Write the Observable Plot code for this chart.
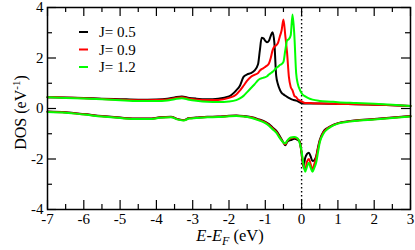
<!DOCTYPE html>
<html><head><meta charset="utf-8">
<script src="https://cdn.jsdelivr.net/npm/d3@7"></script>
<script src="https://cdn.jsdelivr.net/npm/@observablehq/plot@0.6"></script>
<style>body{margin:0;background:#fff;} svg{display:block}</style>
</head><body><div id="chart"></div>
<script>
const seriesNames = ["J= 0.5", "J= 0.9", "J= 1.2"];
const seriesColors = ["#000000", "#ff0000", "#00ff00"];

// spin-up energies (eV) and DOS
const upE = [-7, -6.5, -6, -5.5, -5, -4.5, -4, -3.7, -3.5, -3.3, -3.1, -2.9, -2.6, -2.3, -2.0, -1.8, -1.7, -1.6, -1.5, -1.4, -1.3, -1.2, -1.15, -1.1, -1.05, -1.0, -0.95, -0.9, -0.85, -0.8, -0.75, -0.7, -0.65, -0.6, -0.55, -0.5, -0.45, -0.4, -0.35, -0.3, -0.25, -0.2, -0.15, -0.1, -0.05, 0, 0.1, 0.2, 0.3, 0.5, 0.8, 1.0, 1.5, 2.0, 2.5, 3.0];
const upJ05 = [0.45, 0.44, 0.42, 0.39, 0.37, 0.35, 0.36, 0.39, 0.44, 0.48, 0.42, 0.39, 0.37, 0.39, 0.48, 0.72, 0.9, 1.25, 1.35, 1.4, 1.5, 1.75, 2.3, 2.8, 2.78, 2.68, 2.62, 2.68, 2.88, 3.02, 2.6, 1.3, 0.95, 0.75, 0.62, 0.56, 0.51, 0.46, 0.42, 0.38, 0.35, 0.33, 0.31, 0.28, 0.24, 0.21, 0.2, 0.2, 0.2, 0.2, 0.19, 0.18, 0.17, 0.15, 0.13, 0.1];
const upJ09 = [0.45, 0.43, 0.41, 0.38, 0.35, 0.33, 0.34, 0.36, 0.41, 0.45, 0.39, 0.36, 0.34, 0.34, 0.42, 0.55, 0.71, 0.9, 1.1, 1.25, 1.33, 1.4, 1.5, 1.56, 1.6, 1.65, 1.7, 1.78, 2.0, 2.3, 2.45, 2.5, 2.6, 2.85, 3.1, 3.52, 2.9, 2.2, 1.25, 0.85, 0.72, 0.5, 0.45, 0.36, 0.32, 0.28, 0.22, 0.22, 0.21, 0.2, 0.19, 0.18, 0.17, 0.15, 0.13, 0.1];
const upJ12 = [0.45, 0.42, 0.4, 0.37, 0.33, 0.3, 0.3, 0.32, 0.37, 0.41, 0.35, 0.31, 0.27, 0.26, 0.28, 0.33, 0.4, 0.5, 0.65, 0.8, 0.95, 1.12, 1.17, 1.2, 1.22, 1.24, 1.28, 1.35, 1.4, 1.45, 1.52, 1.6, 1.65, 1.72, 1.76, 1.85, 2.3, 2.7, 2.75, 2.9, 3.72, 2.9, 1.4, 0.95, 0.75, 0.6, 0.48, 0.4, 0.35, 0.3, 0.27, 0.25, 0.22, 0.19, 0.15, 0.1];

// spin-down energies (eV) and DOS
const downE = [-7, -6.5, -6, -5.5, -5, -4.5, -4.2, -3.9, -3.6, -3.4, -3.25, -3.1, -2.9, -2.6, -2.3, -2.0, -1.8, -1.6, -1.4, -1.2, -1.0, -0.9, -0.8, -0.7, -0.6, -0.5, -0.45, -0.4, -0.35, -0.3, -0.2, -0.1, -0.05, 0, 0.05, 0.1, 0.15, 0.2, 0.25, 0.3, 0.35, 0.4, 0.45, 0.5, 0.6, 0.7, 0.8, 1.0, 1.3, 1.6, 2.0, 2.5, 3.0];
const downJ05 = [-0.12, -0.15, -0.22, -0.3, -0.36, -0.4, -0.4, -0.35, -0.33, -0.42, -0.46, -0.38, -0.36, -0.33, -0.32, -0.29, -0.28, -0.3, -0.34, -0.42, -0.53, -0.62, -0.75, -0.88, -1.1, -1.35, -1.46, -1.33, -1.27, -1.25, -1.2, -1.25, -1.3, -1.8, -2.3, -1.95, -1.8, -1.75, -1.9, -2.08, -2.05, -1.9, -1.55, -1.25, -0.92, -0.78, -0.7, -0.58, -0.5, -0.46, -0.42, -0.36, -0.3];
const downJ09 = [-0.13, -0.16, -0.23, -0.31, -0.37, -0.41, -0.41, -0.36, -0.34, -0.43, -0.47, -0.39, -0.37, -0.34, -0.33, -0.3, -0.29, -0.31, -0.35, -0.44, -0.55, -0.65, -0.78, -0.92, -1.14, -1.35, -1.42, -1.3, -1.22, -1.18, -1.15, -1.22, -1.35, -1.75, -2.25, -2.42, -2.1, -2.0, -2.2, -2.42, -2.2, -1.95, -1.6, -1.3, -0.95, -0.8, -0.71, -0.59, -0.51, -0.47, -0.43, -0.37, -0.31];
const downJ12 = [-0.14, -0.17, -0.24, -0.32, -0.38, -0.42, -0.42, -0.37, -0.35, -0.44, -0.48, -0.4, -0.38, -0.35, -0.34, -0.31, -0.3, -0.32, -0.37, -0.46, -0.58, -0.68, -0.82, -0.96, -1.17, -1.35, -1.38, -1.28, -1.2, -1.15, -1.13, -1.2, -1.38, -1.7, -2.2, -2.5, -2.3, -2.15, -2.35, -2.5, -2.35, -2.15, -1.75, -1.35, -1.0, -0.83, -0.73, -0.6, -0.52, -0.48, -0.44, -0.38, -0.32];

const xMajor = [-7, -6, -5, -4, -3, -2, -1, 0, 1, 2, 3];
const xMinor = [-6.5, -5.5, -4.5, -3.5, -2.5, -1.5, -0.5, 0.5, 1.5, 2.5];
const yMajor = [-4, -2, 0, 2, 4];
const yMinor = [-3, -1, 1, 3];

const rows = [];
[[upJ05, downJ05], [upJ09, downJ09], [upJ12, downJ12]].forEach(([u, d], i) => {
  upE.forEach((e, k) => rows.push({E: e, dos: u[k], J: seriesNames[i], key: seriesNames[i] + " up"}));
  downE.forEach((e, k) => rows.push({E: e, dos: d[k], J: seriesNames[i], key: seriesNames[i] + " down"}));
});

const W = 415, H = 250, mt = 7, mb = 41, ml = 47, mr = 5;
const ph = H - mt - mb, pw = W - ml - mr;
const font = "'Liberation Serif','Times New Roman',serif";

const chart = Plot.plot({
  width: W, height: H,
  marginTop: mt, marginBottom: mb, marginLeft: ml, marginRight: mr,
  style: {fontFamily: font, fontSize: "15px", color: "#000", background: "#fff"},
  x: {domain: [-7, 3]},
  y: {domain: [-4, 4]},
  color: {domain: seriesNames, range: seriesColors},
  marks: [
    Plot.ruleX([0], {stroke: "#000", strokeWidth: 1.4, strokeDasharray: "1.4,2.6"}),
    Plot.line(rows, {x: "E", y: "dos", z: "key", stroke: "J", strokeWidth: 2, curve: "monotone-x"}),
    Plot.tickX(xMajor, {x: d => d, insetTop: ph - 9, stroke: "#000", strokeWidth: 1.2}),
    Plot.tickX(xMajor, {x: d => d, insetBottom: ph - 9, stroke: "#000", strokeWidth: 1.2}),
    Plot.tickX(xMinor, {x: d => d, insetTop: ph - 5, stroke: "#000", strokeWidth: 1.2}),
    Plot.tickX(xMinor, {x: d => d, insetBottom: ph - 5, stroke: "#000", strokeWidth: 1.2}),
    Plot.tickY(yMajor, {y: d => d, insetRight: pw - 9, stroke: "#000", strokeWidth: 1.2}),
    Plot.tickY(yMajor, {y: d => d, insetLeft: pw - 9, stroke: "#000", strokeWidth: 1.2}),
    Plot.tickY(yMinor, {y: d => d, insetRight: pw - 5, stroke: "#000", strokeWidth: 1.2}),
    Plot.tickY(yMinor, {y: d => d, insetLeft: pw - 5, stroke: "#000", strokeWidth: 1.2}),
    Plot.axisX(xMajor, {tickSize: 0, tickPadding: 4, tickFormat: d => String(d), label: null}),
    Plot.axisY(yMajor, {tickSize: 0, tickPadding: 4, tickFormat: d => String(d), label: null}),
    Plot.frame({stroke: "#000", strokeWidth: 1.5})
  ]
});

const svg = d3.select(chart);
// y-axis label
const yl = svg.append("text")
  .attr("transform", "translate(26,112.5) rotate(-90)")
  .attr("text-anchor", "middle")
  .attr("font-family", font).attr("font-size", 16).attr("fill", "#000");
yl.append("tspan").text("DOS (eV");
yl.append("tspan").attr("font-size", 11).attr("dy", -6).text("-1");
yl.append("tspan").attr("dy", 6).text(")");

// x-axis label
const xl = svg.append("text")
  .attr("x", 230).attr("y", 241)
  .attr("text-anchor", "middle")
  .attr("font-family", font).attr("font-size", 16.5).attr("fill", "#000");
xl.append("tspan").attr("font-style", "italic").text("E");
xl.append("tspan").text("-");
xl.append("tspan").attr("font-style", "italic").text("E");
xl.append("tspan").attr("font-style", "italic").attr("font-size", 12).attr("dy", 4).text("F");
xl.append("tspan").attr("dy", -4).text(" (eV)");

// legend
const leg = svg.append("g");
seriesNames.forEach((n, i) => {
  const y = 32 + i * 17.5;
  leg.append("line").attr("x1", 79).attr("x2", 88).attr("y1", y).attr("y2", y)
    .attr("stroke", seriesColors[i]).attr("stroke-width", 2);
  leg.append("text").attr("x", 99).attr("y", y + 5).attr("text-anchor", "start")
    .attr("font-family", font).attr("font-size", 15).attr("fill", "#000").text(n);
});

document.getElementById("chart").appendChild(chart);
</script>
</body></html>
